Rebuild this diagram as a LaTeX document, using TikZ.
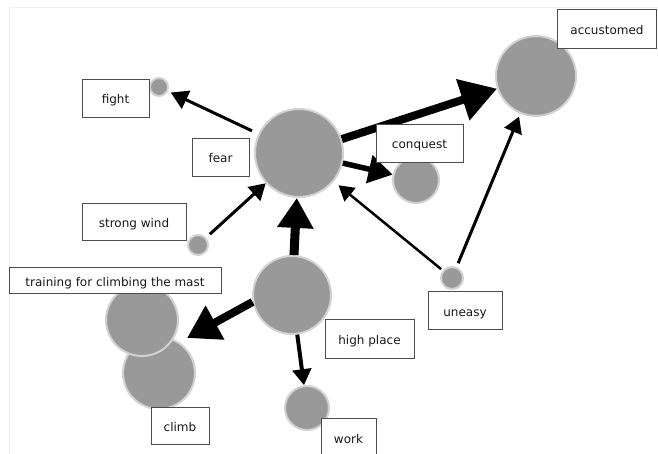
\documentclass[tikz,border=0pt]{standalone}
\usepackage{fontspec}
\setmainfont{DejaVu Sans}
\usetikzlibrary{arrows.meta}
\definecolor{bubfill}{HTML}{999999}
\definecolor{bubedge}{HTML}{D2D2D2}
\tikzset{
  bubble/.style={circle,fill=bubfill,draw=bubedge,line width=2pt,inner sep=0pt,minimum size=#1},
  tag/.style={draw=black!70,fill=white,line width=0.8pt,inner sep=0pt,text=black!90,text height=12pt,text depth=0pt,font=\fontsize{12}{14}\selectfont},
  flow/.style 2 args={line width=#1,-{Triangle[length=#2,width'=0pt 1.15]}}
}
\begin{document}
\begin{tikzpicture}[x=1pt,y=-1pt]
\useasboundingbox (0,0) rectangle (658,454);
\draw[black!7] (9,454) |- (658,7);
\node[bubble=88pt] (fear) at (299,153) {};
\node[bubble=80pt] (accustomed) at (536,76) {};
\node[bubble=46pt] (conquest) at (416,180) {};
\node[bubble=18pt] (fight) at (159,87) {};
\node[bubble=20pt] (wind) at (198,245) {};
\node[bubble=78pt] (high) at (292,295) {};
\node[bubble=72pt] (climb) at (159,373) {};
\node[bubble=72pt] (training) at (142,320) {};
\node[bubble=44pt] (work) at (307,408) {};
\node[bubble=22pt] (uneasy) at (452,278) {};
\coordinate (trainingtip) at (187,338);
\draw[flow={8pt}{36pt}] (fear) -- (accustomed);
\draw[flow={3pt}{17pt},shorten <=7pt,shorten >=3pt] (fear) -- (fight);
\draw[flow={5.5pt}{24pt}] (fear) -- (conquest);
\draw[flow={3pt}{16pt},shorten <=5pt] (wind) -- (fear);
\draw[flow={9pt}{30pt}] (high) -- (fear);
\draw[flow={8pt}{32pt}] (high.190) -- (trainingtip);
\draw[flow={4pt}{16pt}] (high) -- (work);
\draw[flow={2.5pt}{15pt},shorten <=2pt,shorten >=6pt] (uneasy) -- (fear);
\draw[flow={3pt}{16pt},shorten <=4pt,shorten >=3pt] (uneasy) -- (accustomed);
\node[tag,minimum width=67pt,minimum height=38pt] (fightlabel) at (115.5,98) {fight};
\node[tag,minimum width=57pt,minimum height=38pt] (fearlabel) at (220.5,157) {fear};
\node[tag,minimum width=104pt,minimum height=37pt] (windlabel) at (134,221.5) {strong wind};
\node[tag,minimum width=212pt,minimum height=26pt] (traininglabel) at (115,280) {training for climbing the mast};
\node[tag,minimum width=58pt,minimum height=37pt] (climblabel) at (180,425.5) {climb};
\node[tag,minimum width=89pt,minimum height=39pt] (highlabel) at (369.5,338.5) {high place};
\node[tag,minimum width=55pt,minimum height=38pt] (worklabel) at (348.5,437) {work};
\node[tag,minimum width=74pt,minimum height=38pt] (uneasylabel) at (465,310) {uneasy};
\node[tag,minimum width=87pt,minimum height=38pt] (conquestlabel) at (419.5,143) {conquest};
\node[tag,minimum width=99pt,minimum height=39pt] (accustomedlabel) at (607,28.5) {accustomed};
\end{tikzpicture}
\end{document}
